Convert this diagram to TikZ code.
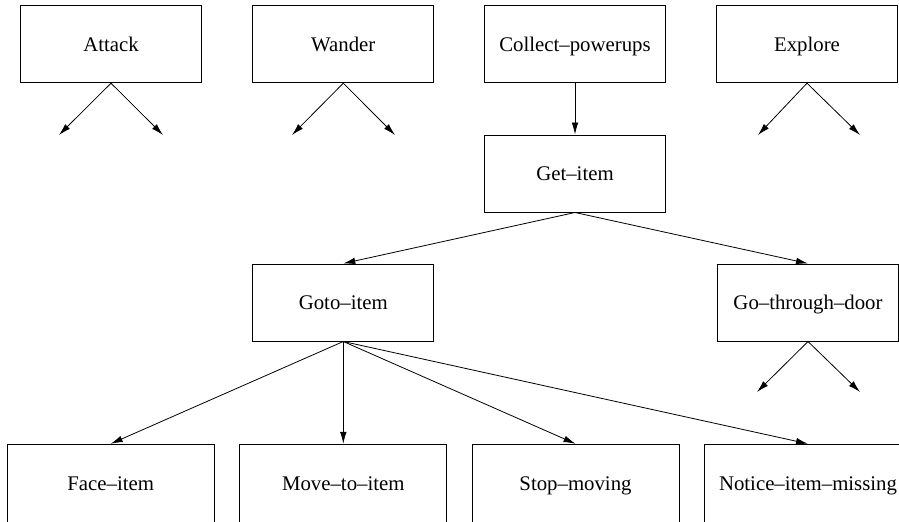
\documentclass[tikz,border=0pt]{standalone}
\usepackage{fontspec}
\setmainfont{Liberation Serif}
\usetikzlibrary{arrows.meta}
\begin{document}
\begin{tikzpicture}[x=0.75pt,y=-0.75pt,
  task/.style={draw,line width=0.75pt,inner sep=0pt,
    minimum width=135.75pt,minimum height=57.75pt,
    text height=11pt,text depth=0pt,
    font=\fontsize{15.6pt}{18pt}\selectfont},
  wide/.style={task,minimum width=155.25pt,minimum height=58.5pt},
  link/.style={line width=0.6pt,-{Latex[length=9pt,width=5pt]}}]
\clip (0,0) rectangle (899,521);

% top-level behaviours
\node[task] (attack)  at (111,44.2)   {Attack};
\node[task] (wander)  at (343.3,44.2) {Wander};
\node[task] (collect) at (575,44.2)   {Collect–powerups};
\node[task] (explore) at (807,44.2)   {Explore};

% sub-behaviours of Collect-powerups
\node[task] (get)  at (575,173.5)   {Get–item};
\node[task] (goto) at (343.3,302.5) {Goto–item};
\node[task] (door) at (808,302.5)   {Go–through–door};

% leaf actions of Goto-item
\node[wide] (face)   at (110.7,483.3) {Face–item};
\node[wide] (move)   at (343.3,483.3) {Move–to–item};
\node[wide] (stop)   at (575.5,483.3) {Stop–moving};
\node[wide] (notice) at (808,483.3)   {Notice–item–missing};

% loose ends for the unexpanded behaviours
\coordinate (a1) at (59,135);  \coordinate (a2) at (163,135);
\coordinate (w1) at (292,135); \coordinate (w2) at (395,135);
\coordinate (e1) at (758,135); \coordinate (e2) at (860,135);
\coordinate (d1) at (757,392); \coordinate (d2) at (860,392);

\draw[link] (attack.south) -- (a1);
\draw[link] (attack.south) -- (a2);
\draw[link] (wander.south) -- (w1);
\draw[link] (wander.south) -- (w2);
\draw[link] (explore.south) -- (e1);
\draw[link] (explore.south) -- (e2);
\draw[link] (door.south) -- (d1);
\draw[link] (door.south) -- (d2);

\draw[link] (collect.south) -- (get.north);
\draw[link] (get.south) -- (goto.north);
\draw[link] (get.south) -- (door.north);
\draw[link] (goto.south) -- (face.north);
\draw[link] (goto.south) -- (move.north);
\draw[link] (goto.south) -- (stop.north);
\draw[link] (goto.south) -- (notice.north);
\end{tikzpicture}
\end{document}
